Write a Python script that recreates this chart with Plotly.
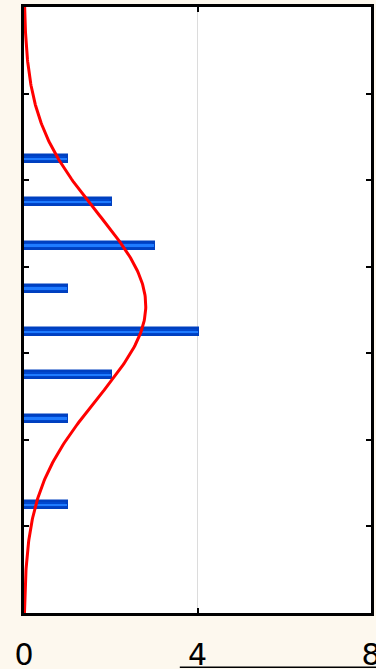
import numpy as np
import plotly.graph_objects as go

# Histogram bins (centres on the vertical axis) and counts (bar lengths)
bin_centres = [2.5, 3.5, 4.5, 5.5, 6.5, 7.5, 8.5, 9.5, 10.5]
counts = [1, None, 1, 2, 4, 1, 3, 2, 1]
x_ticks = [0, 4, 8]
x_tick_labels = ["0", "4", "8"]
y_ticks = [0, 2, 4, 6, 8, 10, 12, 14]

# Fitted normal curve derived from the histogram data
c = np.array([v or 0 for v in counts], dtype=float)
b = np.array(bin_centres, dtype=float)
n = c.sum()
mean = (c * b).sum() / n
sd = np.sqrt((c * (b - mean) ** 2).sum() / (n - 1))
bin_w = 1.0
yy = np.linspace(0, 14, 300)
xx = n * bin_w / (sd * np.sqrt(2 * np.pi)) * np.exp(-0.5 * ((yy - mean) / sd) ** 2)

fig = go.Figure()
fig.add_trace(go.Bar(
    x=counts, y=bin_centres, orientation="h", width=0.16,
    marker=dict(color="#0048d0", line=dict(color="#0040c0", width=2.5)),
    showlegend=False, hoverinfo="skip",
))
# bright highlight stripe along the middle of each bar
fig.add_trace(go.Bar(
    x=counts, y=bin_centres, orientation="h", width=0.045,
    marker=dict(color="#1f7bff", line=dict(width=0)),
    showlegend=False, hoverinfo="skip",
))
fig.add_trace(go.Scatter(
    x=xx, y=yy, mode="lines", line=dict(color="#ff0000", width=3),
    showlegend=False, hoverinfo="skip",
))

fig.update_layout(
    width=376, height=669,
    margin=dict(l=24, r=5, t=7, b=56, autoexpand=False),
    paper_bgcolor="#fdf8ee", plot_bgcolor="#ffffff",
    font=dict(family="DejaVu Sans", color="#000000"),
    barmode="overlay", bargap=0,
    shapes=[dict(type="line", xref="paper", yref="paper",
                 x0=0.449, x1=1.05, y0=-0.0895, y1=-0.0895,
                 line=dict(color="#000000", width=1.5))],
)
fig.update_xaxes(
    range=[0, 8], tickvals=x_ticks, ticktext=x_tick_labels,
    showgrid=True, gridcolor="#dcdcdc", gridwidth=1, zeroline=False,
    showline=True, linecolor="#000000", linewidth=2.5, mirror="ticks",
    ticks="inside", ticklen=5, tickwidth=2, tickcolor="#000000",
    tickfont=dict(size=30, family="DejaVu Sans", color="#000000"),
    ticklabelstandoff=13, ticklabeloverflow="allow", automargin=False,
)
fig.update_yaxes(
    range=[0, 14], tickvals=y_ticks, showticklabels=False,
    showgrid=False, zeroline=False, automargin=False,
    showline=True, linecolor="#000000", linewidth=2.5, mirror="ticks",
    ticks="inside", ticklen=5, tickwidth=2, tickcolor="#000000",
)

fig.write_html("out.html")
